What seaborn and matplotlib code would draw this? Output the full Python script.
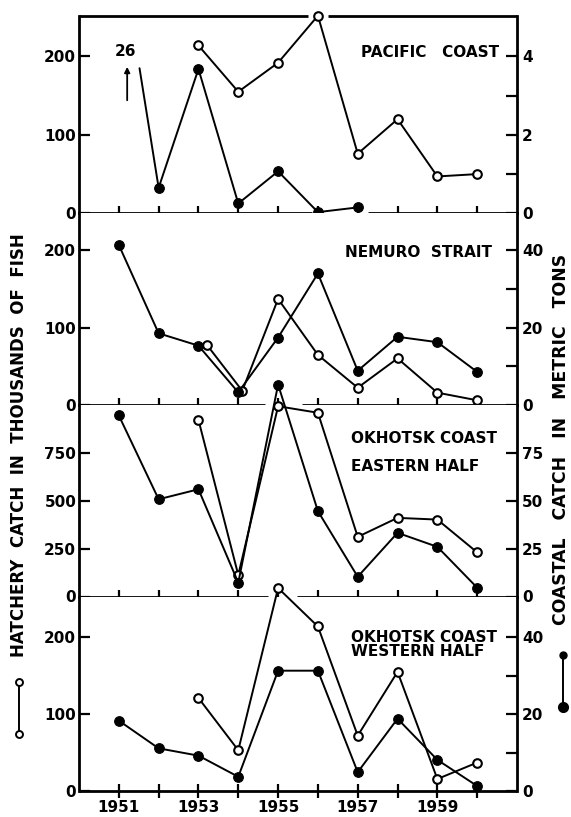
import matplotlib
matplotlib.use("Agg")
import matplotlib.pyplot as plt
import seaborn as sns
from matplotlib.lines import Line2D

# ---------------- data ----------------
years = [1951, 1952, 1953, 1954, 1955, 1956, 1957, 1958, 1959, 1960]
hatch_years = [1953, 1954, 1955, 1956, 1957, 1958, 1959, 1960]

# Pacific coast
pac_hatch = [214, 155, 192, 252, 76, 120, 47, 50]            # thousands of fish
pac_coast_years = [1952, 1953, 1954, 1955, 1956, 1957]
pac_coast = [0.65, 3.68, 0.25, 1.07, 0.03, 0.15]              # metric tons
pac_coast_1951 = 26                                            # off scale

# Nemuro strait
nem_hatch = [77, 18, 137, 64.5, 22, 60, 15.6, 5.7]
nem_coast = [41.4, 18.5, 15.3, 3.2, 17.4, 34, 8.8, 17.6, 16.2, 8.5]

# Okhotsk coast, eastern half
oke_hatch = [921, 112, 992, 958, 311, 410, 401, 230]
oke_coast = [94.4, 50.7, 55.9, 7.2, 110.5, 44.5, 10.3, 33.2, 25.9, 4.6]

# Okhotsk coast, western half
okw_hatch = [121, 53, 264, 214, 72, 155, 15.6, 37]
okw_coast = [18.3, 11.1, 9.2, 3.7, 31.3, 31.3, 4.9, 18.8, 8.1, 1.3]

titles = [["PACIFIC   COAST"], ["NEMURO  STRAIT"],
          ["OKHOTSK COAST", "EASTERN HALF"], ["OKHOTSK COAST", "WESTERN HALF"]]
year_labels = ["1951", "", "1953", "", "1955", "", "1957", "", "1959", ""]

left_ticks = [[0, 100, 200], [0, 100, 200], [0, 250, 500, 750], [0, 100, 200]]
right_ticks = [[0, 1, 2, 3, 4], [0, 10, 20, 30, 40], [0, 25, 50, 75], [0, 10, 20, 30, 40]]
right_labels = [["0", "", "2", "", "4"], ["0", "", "20", "", "40"],
                ["0", "25", "50", "75"], ["0", "", "20", "", "40"]]
left_top = [252, 248, 1000, 253]
factor = [50, 5, 10, 5]

# ---------------- style ----------------
sns.set_style("white")
plt.rcParams["font.family"] = ["DejaVu Sans"]
plt.rcParams["font.weight"] = "bold"
for k in ["text.color", "axes.labelcolor", "xtick.color", "ytick.color",
          "axes.edgecolor"]:
    plt.rcParams[k] = "black"

W, H = 571, 817
fig = plt.figure(figsize=(W / 100, H / 100), dpi=100)

x_left, x_right = 79, 517
tops = [15.7, 213.3, 404.7, 596.5]
bots = [213.3, 404.7, 596.5, 791]

# small horizontal dodge used in the original to keep overlapping circles apart
nem_dodge = [0.22, 0.1, 0, 0, 0, 0, 0, 0]
nem_hatch_x = [y + d for y, d in zip(hatch_years, nem_dodge)]

hatch_sets = [(hatch_years, pac_hatch), (nem_hatch_x, nem_hatch),
              (hatch_years, oke_hatch), (hatch_years, okw_hatch)]
coast_sets = [(pac_coast_years, pac_coast), (years, nem_coast),
              (years, oke_coast), (years, okw_coast)]

gaps_bottom = [(1955.85, 1957.27), (1954.67, 1955.6), (1954.75, 1955.47), None]
LW = 1.4


def draw_series(ax, xs, ys, filled):
    if filled:
        sns.lineplot(x=xs, y=ys, ax=ax, color="black", linewidth=LW,
                     marker="o", markersize=7, markerfacecolor="black",
                     markeredgecolor="black", clip_on=False, sort=False,
                     estimator=None, legend=False, zorder=4)
    else:
        sns.lineplot(x=xs, y=ys, ax=ax, color="black", linewidth=LW,
                     marker="o", markersize=6.2, markerfacecolor="white",
                     markeredgecolor="black", markeredgewidth=1.5,
                     clip_on=False, sort=False, estimator=None,
                     legend=False, zorder=3)


def hline_gap(ax, yfrac, gap):
    tr = ax.get_xaxis_transform()
    segs = [(1950, 1961)] if gap is None else [(1950, gap[0]), (gap[1], 1961)]
    for a, b in segs:
        ax.plot([a, b], [yfrac, yfrac], transform=tr, color="black", lw=2,
                clip_on=False, solid_capstyle="butt", zorder=5)


for i in range(4):
    ax = fig.add_axes([x_left / W, 1 - bots[i] / H, (x_right - x_left) / W,
                       (bots[i] - tops[i]) / H])
    ax2 = ax.twinx()
    ax.set_xlim(1950, 1961)
    ax.set_ylim(0, left_top[i])
    ax2.set_ylim(0, left_top[i] / factor[i])

    draw_series(ax, hatch_sets[i][0], hatch_sets[i][1], filled=False)
    draw_series(ax2, coast_sets[i][0], coast_sets[i][1], filled=True)

    for s in ["top", "bottom"]:
        ax.spines[s].set_visible(False)
    for s in ["left", "right"]:
        ax.spines[s].set_linewidth(2)
        ax.spines[s].set_color("black")
    for s in ax2.spines.values():
        s.set_visible(False)

    hline_gap(ax, 0, gaps_bottom[i])
    if i == 0:
        hline_gap(ax, 1, (1955.75, 1956.26))

    ax.set_xticks(years)
    ax.tick_params(axis="x", direction="inout", length=9.5, width=1.6,
                   bottom=True, top=False, pad=2, labelsize=11, colors="black")
    if i == 3:
        ax.set_xticklabels(year_labels, fontweight="bold")
    else:
        ax.tick_params(axis="x", labelbottom=False)

    ax.set_yticks(left_ticks[i])
    ax.set_yticklabels([str(t) for t in left_ticks[i]], fontweight="bold")
    ax.tick_params(axis="y", direction="in", length=8, width=1.6, left=True,
                   right=False, pad=2, labelsize=11, colors="black")
    ax2.set_yticks(right_ticks[i])
    ax2.set_yticklabels(right_labels[i], fontweight="bold")
    ax2.tick_params(axis="y", direction="in", length=8, width=1.6, pad=3.5,
                    labelsize=11, colors="black")
    ax.set_xlabel("")
    ax.set_ylabel("")
    ax2.set_ylabel("")
    ax.grid(False)
    ax2.grid(False)

    tk = dict(transform=ax.transAxes, va="center", fontsize=11,
              fontweight="bold", color="black")
    if i == 0:
        ax.text(0.9596, 0.8156, titles[0][0], ha="right", **tk)
        # off-scale 1951 value
        ax.text(0.1073, 0.817, str(pac_coast_1951), ha="center", **tk)
        ax.annotate("", xy=(0.110, 0.755), xytext=(0.110, 0.558),
                    xycoords="axes fraction",
                    arrowprops=dict(arrowstyle="-|>", color="black", lw=1.3,
                                    mutation_scale=8))
        ax2.plot([1951.52, pac_coast_years[0]], [3.70, pac_coast[0]],
                 color="black", lw=LW, zorder=3)
    elif i == 1:
        ax.text(0.943, 0.7926, titles[1][0], ha="right", **tk)
    elif i == 2:
        ax.text(0.621, 0.8248, titles[2][0], ha="left", **tk)
        ax.text(0.621, 0.680, titles[2][1], ha="left", **tk)
    else:
        ax.text(0.621, 0.788, titles[3][0], ha="left", **tk)
        ax.text(0.621, 0.716, titles[3][1], ha="left", **tk)

# axis titles
fig.text(19 / W, 1 - 445 / H, "HATCHERY  CATCH  IN  THOUSANDS  OF  FISH",
         rotation=90, ha="center", va="center", fontsize=12,
         fontweight="bold", color="black")
fig.text(561 / W, 1 - 439 / H, "COASTAL   CATCH   IN   METRIC   TONS",
         rotation=90, ha="center", va="center", fontsize=12.4,
         fontweight="bold", color="black")

# legend glyphs beside the axis titles
fig.add_artist(Line2D([19 / W, 19 / W], [1 - 682.3 / H, 1 - 734 / H],
                      color="black", lw=1.4, marker="o", markersize=5,
                      markerfacecolor="white", markeredgecolor="black",
                      markeredgewidth=1.4))
fig.add_artist(Line2D([562.7 / W, 562.7 / W], [1 - 655 / H, 1 - 706.7 / H],
                      color="black", lw=1.4))
fig.add_artist(Line2D([562.7 / W], [1 - 655 / H], marker="o", markersize=5,
                      markerfacecolor="black", markeredgecolor="black"))
fig.add_artist(Line2D([562.7 / W], [1 - 706.7 / H], marker="o", markersize=7,
                      markerfacecolor="black", markeredgecolor="black"))

fig.savefig("out.png", dpi=100)
